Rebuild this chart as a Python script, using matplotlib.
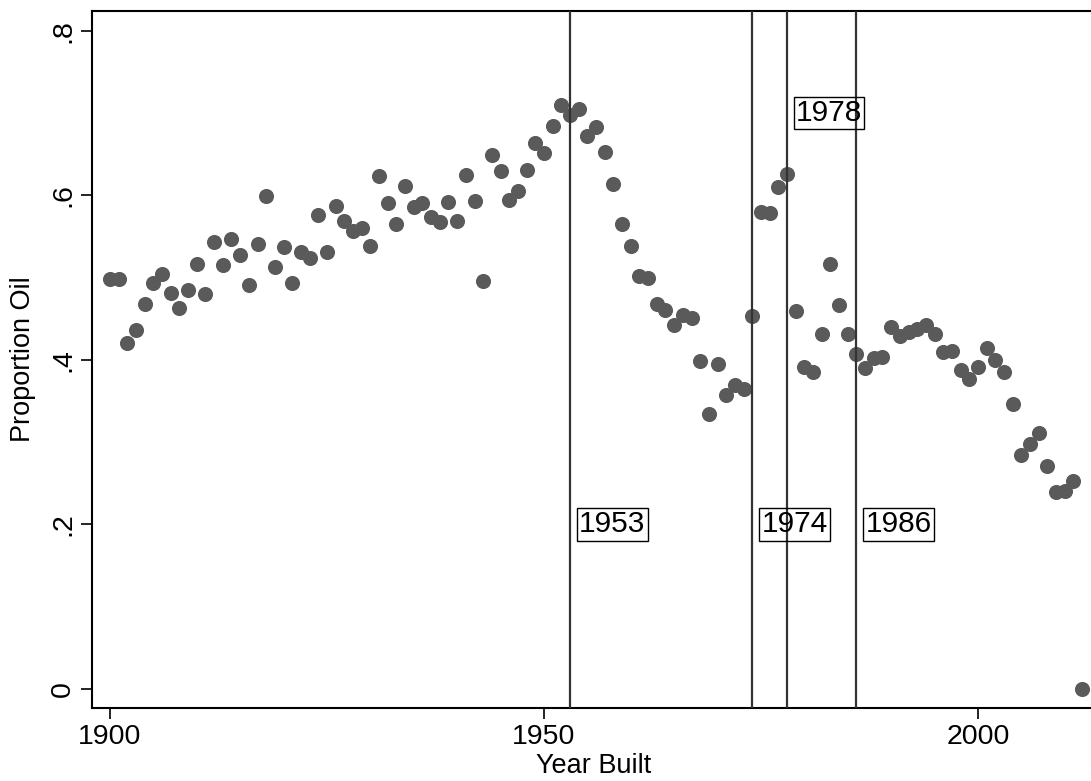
import matplotlib
matplotlib.use("Agg")
import matplotlib.pyplot as plt

plt.rcParams['font.family'] = ['Liberation Sans', 'DejaVu Sans']

# Datos: proporcion de viviendas con calefaccion a petroleo por año de construccion
anios = list(range(1900, 2013))
prop_oil = [
    0.498, 0.498, 0.420, 0.437, 0.468, 0.494, 0.505, 0.481, 0.463, 0.485,  # 1900-1909
    0.517, 0.480, 0.543, 0.515, 0.547, 0.527, 0.491, 0.541, 0.599, 0.513,  # 1910-1919
    0.537, 0.493, 0.531, 0.524, 0.576, 0.531, 0.587, 0.569, 0.557, 0.560,  # 1920-1929
    0.538, 0.624, 0.591, 0.565, 0.612, 0.586, 0.591, 0.574, 0.568, 0.592,  # 1930-1939
    0.569, 0.625, 0.593, 0.496, 0.649, 0.630, 0.594, 0.606, 0.631, 0.664,  # 1940-1949
    0.651, 0.684, 0.710, 0.698, 0.705, 0.672, 0.683, 0.653, 0.614, 0.565,  # 1950-1959
    0.539, 0.502, 0.500, 0.468, 0.461, 0.443, 0.455, 0.451, 0.399, 0.334,  # 1960-1969
    0.395, 0.357, 0.370, 0.365, 0.453, 0.580, 0.579, 0.610, 0.626, 0.460,  # 1970-1979
    0.391, 0.385, 0.431, 0.517, 0.467, 0.431, 0.407, 0.390, 0.402, 0.404,  # 1980-1989
    0.440, 0.429, 0.434, 0.438, 0.442, 0.431, 0.410, 0.411, 0.388, 0.377,  # 1990-1999
    0.392, 0.415, 0.400, 0.385, 0.346, 0.284, 0.298, 0.311, 0.271, 0.239,  # 2000-2009
    0.241, 0.253, 0.0,                                                     # 2010-2012
]

# Años marcados con lineas verticales y altura de su etiqueta
anios_marca = [1953, 1974, 1978, 1986]
altura_etiqueta = [0.2, 0.2, 0.7, 0.2]

fig = plt.figure(figsize=(10.91, 7.81), dpi=100)
ax = fig.add_axes([0.0843, 0.0935, 0.92, 0.8925])

ax.scatter(anios, prop_oil, s=118, color="#5a5a5a", linewidths=0, zorder=2)

for anio, h in zip(anios_marca, altura_etiqueta):
    ax.axvline(anio, color="#333333", linewidth=1.6, zorder=3)
    ax.text(anio + 1.05, h, str(anio), fontsize=21.5, ha="left", va="center", zorder=4,
            bbox=dict(boxstyle="square,pad=0.07", facecolor="none",
                      edgecolor="black", linewidth=1))

ax.set_xlim(1897.93, 2013.56)
ax.set_ylim(-0.0231, 0.8243)

ax.set_xticks([1900, 1950, 2000])
ax.set_yticks([0, 0.2, 0.4, 0.6, 0.8])
ax.set_yticklabels(["0", ".2", ".4", ".6", ".8"], rotation=90, va="center")
ax.tick_params(axis="both", labelsize=20.5, length=8, width=1.2, direction="out")

ax.set_xlabel("Year Built", fontsize=19.5, labelpad=2)
ax.set_ylabel("Proportion Oil", fontsize=19.5, labelpad=10)

for lado in ["left", "bottom", "top", "right"]:
    ax.spines[lado].set_linewidth(1.5)

fig.savefig("out.png", dpi=100)
